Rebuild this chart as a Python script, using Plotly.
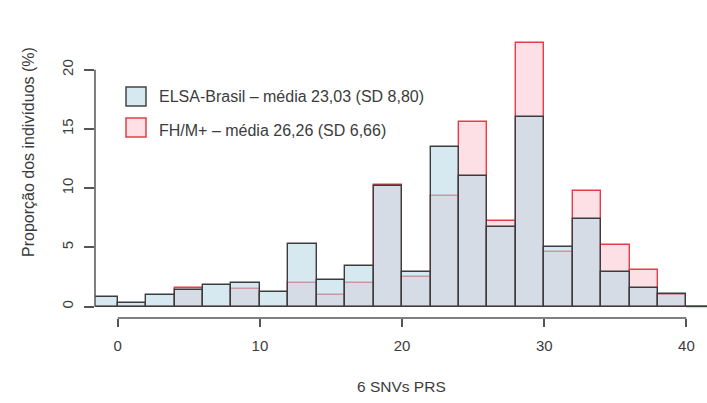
import plotly.graph_objects as go

# Bin edges (width 2)
bin_left = [-2, 0, 2, 4, 6, 8, 10, 12, 14, 16, 18, 20, 22, 24, 26, 28, 30, 32, 34, 36, 38, 40]
bin_width = 2

# Percentages per bin
elsa = [0.83, 0.32, 0.95, 1.40, 1.84, 2.01, 1.25, 5.31, 2.27, 3.42, 10.19, 2.94,
        13.50, 11.03, 6.69, 15.99, 5.00, 7.42, 2.92, 1.56, 1.06, 0.0]
fhm = [0.0, 0.0, 0.0, 1.54, 0.0, 1.50, 0.0, 2.01, 1.00, 1.96, 10.30, 2.52,
       9.34, 15.57, 7.25, 22.30, 4.60, 9.79, 5.17, 3.11, 1.00, 0.0]

x_ticks = [0, 10, 20, 30, 40]
y_ticks = [0, 5, 10, 15, 20]

legend_labels = ["ELSA-Brasil \u2013 média 23,03 (SD 8,80)",
                 "FH/M+ \u2013 média 26,26 (SD 6,66)"]
x_title = "6 SNVs PRS"
y_title = "Proporção dos indivíduos (%)"

centers = [b + bin_width / 2 for b in bin_left]

FONT = "Liberation Sans, Arial, sans-serif"
TXT = "#3c3c3c"

red_fill = "rgb(253,224,229)"
red_line = "rgb(232,60,70)"
blue_fill = "rgba(184,217,229,0.58)"
blue_line = "rgb(60,60,60)"

fig = go.Figure()
fig.add_trace(go.Bar(x=centers, y=fhm, width=bin_width,
                     marker=dict(color=red_fill, line=dict(color=red_line, width=1.4)),
                     showlegend=False, name="FH/M+"))
fig.add_trace(go.Bar(x=centers, y=elsa, width=bin_width,
                     marker=dict(color=blue_fill, line=dict(color=blue_line, width=1.4)),
                     showlegend=False, name="ELSA-Brasil"))

# zero-height bins are drawn by R as a flat line at 0
for b, e, f in zip(bin_left, elsa, fhm):
    if e == 0 and f == 0:
        fig.add_trace(go.Scatter(x=[b, b + bin_width], y=[0, 0], mode="lines",
                                 line=dict(color=blue_line, width=1.4),
                                 showlegend=False, hoverinfo="skip"))

PW, PH = 612, 308  # plot area size in px
def px(xp):
    return (xp - 95) / PW
def py(yp):
    return (318 - yp) / PH

shapes = [
    dict(type="line", xref="x", yref="paper", x0=x_ticks[0], x1=x_ticks[-1], y0=0, y1=0,
         line=dict(color="#555", width=1.5)),
    dict(type="line", xref="paper", yref="y", x0=0, x1=0, y0=y_ticks[0], y1=y_ticks[-1],
         line=dict(color="#555", width=1.5)),
    dict(type="rect", xref="paper", yref="paper", x0=px(126), x1=px(146),
         y0=py(106), y1=py(87),
         fillcolor="rgb(214,233,240)", line=dict(color="#444", width=1.5)),
    dict(type="rect", xref="paper", yref="paper", x0=px(126), x1=px(146),
         y0=py(137), y1=py(118),
         fillcolor=red_fill, line=dict(color=red_line, width=1.5)),
]

annotations = [
    dict(text=legend_labels[0], xref="paper", yref="paper", x=px(157), y=py(97),
         xanchor="left", yanchor="middle", showarrow=False, font=dict(size=16, color=TXT, family=FONT)),
    dict(text=legend_labels[1], xref="paper", yref="paper", x=px(157), y=py(130),
         xanchor="left", yanchor="middle", showarrow=False, font=dict(size=16, color=TXT, family=FONT)),
    dict(text=x_title, xref="paper", yref="paper", x=px(401), y=py(386),
         xanchor="center", yanchor="middle", showarrow=False, font=dict(size=15.5, color=TXT, family=FONT)),
    dict(text=y_title, xref="paper", yref="paper", x=px(28), y=py(152),
         xanchor="center", yanchor="middle", textangle=-90, showarrow=False,
         font=dict(size=16, color=TXT, family=FONT)),
]

fig.update_layout(
    width=707, height=403,
    margin=dict(l=95, r=0, t=10, b=85),
    plot_bgcolor="white", paper_bgcolor="white",
    barmode="overlay", bargap=0,
    shapes=shapes, annotations=annotations,
    font=dict(family=FONT, color=TXT),
    xaxis=dict(range=[-1.6, 41.45], tickvals=x_ticks, ticks="outside", ticklen=8,
               tickwidth=1.5, tickcolor="#555", showgrid=False, zeroline=False, showline=False,
               tickfont=dict(size=15, color=TXT), ticklabelstandoff=6, fixedrange=True),
    yaxis=dict(range=[-0.97, 25.06], tickvals=y_ticks, ticks="outside", ticklen=10,
               tickwidth=1.5, tickcolor="#555", showgrid=False, zeroline=False, showline=False,
               tickangle=-90, tickfont=dict(size=15, color=TXT), ticklabelstandoff=5, fixedrange=True),
)

fig.write_html("out.html")
